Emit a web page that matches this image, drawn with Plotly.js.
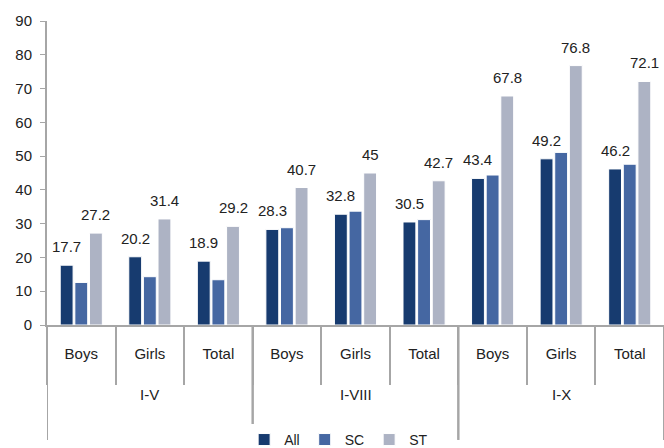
<!DOCTYPE html>
<html>
<head>
<meta charset="utf-8">
<script src="https://cdn.plot.ly/plotly-3.0.1.min.js"></script>
<style>html,body{margin:0;padding:0;background:#fff;}#chart{width:664px;height:448px;}</style>
</head>
<body>
<div id="chart"></div>
<script>
const groups = ["I-V","I-V","I-V","I-VIII","I-VIII","I-VIII","I-X","I-X","I-X"];
const subcats = ["Boys","Girls","Total","Boys","Girls","Total","Boys","Girls","Total"];
const allVals = [17.7, 20.2, 18.9, 28.3, 32.8, 30.5, 43.4, 49.2, 46.2];
const scVals  = [12.6, 14.3, 13.4, 28.8, 33.7, 31.2, 44.4, 51.1, 47.6];
const stVals  = [27.2, 31.4, 29.2, 40.7, 45, 42.7, 67.8, 76.8, 72.1];

const fontFam = "'Liberation Sans', Arial, sans-serif";
const W = 664, H = 448, ML = 47, MR = 0, MT = 21, MB = 123;
const BARGAP = 0.36;
const keys = groups.map((g, i) => g + '|' + subcats[i]);
function mk(name, vals, color) {
  return {
    type: 'bar', name: name, x: keys, y: vals,
    marker: {color: color, line: {color: '#ffffff', width: 1}},
    cliponaxis: false,
    hoverinfo: 'y'
  };
}
const data = [
  mk('All', allVals, '#173B6F'),
  mk('SC', scVals, '#4567A2'),
  mk('ST', stVals, '#ADB3C4')
];

// value labels for All (first slot) and ST (third slot), offset from category centre
const catPx = (W - ML - MR) / keys.length;
const slotPx = catPx * (1 - BARGAP) / data.length;
const annotations = [];
[[allVals, -slotPx], [stVals, slotPx]].forEach(([vals, dx]) => {
  vals.forEach((v, i) => annotations.push({
    x: keys[i], xref: 'x', y: v, yref: 'y', text: String(v), showarrow: false,
    xanchor: 'center', yanchor: 'bottom', xshift: dx, yshift: 8,
    font: {family: fontFam, size: 15, color: '#222'}
  }));
});

// group dividers and labels derived from category indices
const uniqGroups = [...new Set(groups)];
const shapes = [];
uniqGroups.forEach((g) => {
  const idx = groups.map((v, i) => v === g ? i : -1).filter(i => i >= 0);
  const first = idx[0], last = idx[idx.length - 1];
  annotations.push({x: keys[idx[Math.floor(idx.length / 2)]], xref: 'x', y: -0.23, yref: 'paper',
    text: g, showarrow: false, yanchor: 'middle', font: {family: fontFam, size: 15, color: '#222'}});
  [first - 0.5, last + 0.5].forEach(b => {
    shapes.push({type: 'line', xref: 'x', yref: 'paper', x0: b, x1: b, y0: 0, y1: -0.378,
      line: {color: '#a6a6a6', width: 2}});
  });
});

const layout = {
  width: W, height: H,
  margin: {l: ML, r: MR, t: MT, b: MB},
  paper_bgcolor: '#fff', plot_bgcolor: '#fff',
  font: {family: fontFam, size: 15, color: '#222'},
  barmode: 'group', bargap: BARGAP, bargroupgap: 0.12,
  showlegend: true,
  legend: {orientation: 'h', x: 0.51, xanchor: 'center', xref: 'container',
           y: 0.018, yref: 'container', yanchor: 'middle',
           font: {family: fontFam, size: 14, color: '#222'}, itemwidth: 30,
           tracegroupgap: 0},
  shapes: shapes,
  annotations: annotations,
  yaxis: {range: [0, 90], dtick: 10, showgrid: false, zeroline: false,
          showline: true, linecolor: '#a6a6a6', linewidth: 2,
          ticks: 'outside', ticklen: 5, tickcolor: '#a6a6a6', tickwidth: 1,
          ticklabelstandoff: 5,
          tickfont: {family: fontFam, size: 15, color: '#222'}},
  xaxis: {type: 'category', range: [-0.5, keys.length - 0.5], showgrid: false, zeroline: false,
          showline: true, linecolor: '#a6a6a6', linewidth: 2,
          tickmode: 'array', tickvals: keys, ticktext: subcats,
          ticks: 'outside', tickson: 'boundaries', ticklen: 58, tickcolor: '#a6a6a6', tickwidth: 2,
          ticklabelstandoff: 14,
          tickfont: {family: fontFam, size: 15, color: '#222'}}
};
Plotly.newPlot('chart', data, layout, {displayModeBar: false});
</script>
</body>
</html>
